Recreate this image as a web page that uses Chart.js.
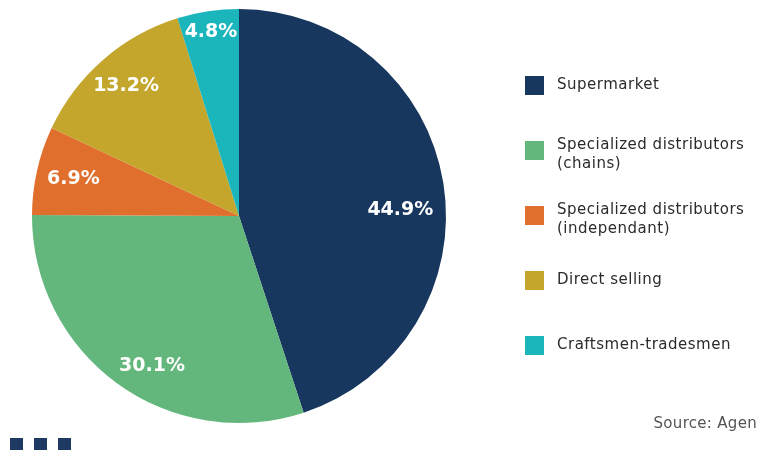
<!DOCTYPE html>
<html>
<head>
<meta charset="utf-8">
<script src="https://cdn.jsdelivr.net/npm/chart.js@4.4.1/dist/chart.umd.min.js"></script>
<style>
  html, body { margin: 0; padding: 0; background: #fff; }
  #wrap { position: relative; width: 758px; height: 450px; }
</style>
</head>
<body>
<div id="wrap"><canvas id="pie" width="758" height="450"></canvas></div>
<script>
// Donnees
const channels = [
    ['Supermarket'],
    ['Specialized distributors', '(chains)'],
    ['Specialized distributors', '(independant)'],
    ['Direct selling'],
    ['Craftsmen-tradesmen']
];
const shares = [44.9, 30.1, 6.9, 13.2, 4.8];
const sliceColors = ['#17375e', '#63b77c', '#e06f2d', '#c3a62b', '#1bb5bc'];
// placement des etiquettes (fraction du rayon, decalage en degres)
const labelRadius = [0.78, 0.84, 0.82, 0.83, 0.9];
const labelShift = [7, -6, 0, 0, 0];
const sourceText = 'Source: Agen';

const fontFamily = '"DejaVu Sans", sans-serif';

// Etiquettes blanches dans les parts
const sliceLabels = {
    id: 'sliceLabels',
    afterDatasetsDraw(chart) {
        const ctx = chart.ctx;
        const meta = chart.getDatasetMeta(0);
        ctx.save();
        ctx.fillStyle = '#ffffff';
        ctx.font = 'bold 19px ' + fontFamily;
        ctx.textAlign = 'center';
        ctx.textBaseline = 'middle';
        meta.data.forEach((arc, i) => {
            const mid = (arc.startAngle + arc.endAngle) / 2 + labelShift[i] * Math.PI / 180;
            const r = arc.outerRadius * labelRadius[i];
            ctx.fillText(shares[i].toFixed(1) + '%', arc.x + Math.cos(mid) * r, arc.y + Math.sin(mid) * r);
        });
        ctx.restore();
    }
};

// Legende a droite + source + petits carres
const sideLegend = {
    id: 'sideLegend',
    afterDraw(chart) {
        const ctx = chart.ctx;
        ctx.save();
        const x0 = 525, y0 = 76, step = 65, box = 19;
        ctx.font = '15px ' + fontFamily;
        ctx.letterSpacing = '0.5px';
        ctx.textBaseline = 'middle';
        ctx.textAlign = 'left';
        channels.forEach((lines, i) => {
            const y = y0 + i * step;
            ctx.fillStyle = sliceColors[i];
            ctx.fillRect(x0, y, box, box);
            ctx.fillStyle = '#2b2b2b';
            if (lines.length === 1) {
                ctx.fillText(lines[0], x0 + 32, y + box / 2);
            } else {
                lines.forEach((t, k) => ctx.fillText(t, x0 + 32, y + 4 + k * 19));
            }
        });
        ctx.fillStyle = '#555';
        ctx.font = '15px ' + fontFamily;
        ctx.letterSpacing = '0.3px';
        ctx.textAlign = 'right';
        ctx.fillText(sourceText, 757, 424);
        ctx.fillStyle = '#1f3a62';
        [10, 34, 58].forEach(x => ctx.fillRect(x, 438, 13, 12));
        ctx.restore();
    }
};

new Chart(document.getElementById('pie'), {
    type: 'pie',
    data: {
        labels: channels.map(l => l.join(' ')),
        datasets: [{
            data: shares,
            backgroundColor: sliceColors,
            borderWidth: 0
        }]
    },
    options: {
        responsive: false,
        animation: false,
        layout: { padding: { left: 32, top: 9, right: 312, bottom: 27 } },
        plugins: {
            legend: { display: false },
            tooltip: { enabled: false }
        }
    },
    plugins: [sliceLabels, sideLegend]
});
</script>
</body>
</html>
